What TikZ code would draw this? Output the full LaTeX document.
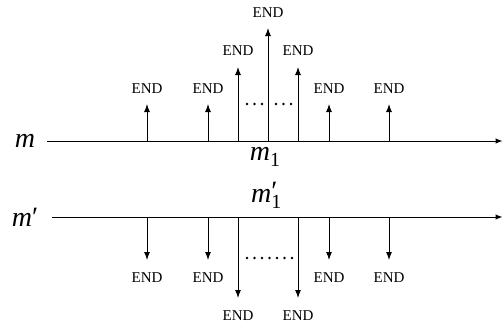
\documentclass[tikz,border=0pt]{standalone}
\usepackage{fontspec}
\setmainfont{Liberation Serif}
\usetikzlibrary{arrows.meta}
\tikzset{
  axisline/.style={line width=1pt,-{Latex[length=7pt,width=5.5pt]}},
  spike/.style={line width=1pt,-{Latex[length=8pt,width=6pt]}},
  endlbl/.style={font=\fontsize{15}{15}\selectfont,inner sep=0pt,anchor=base},
  varlbl/.style={font=\fontsize{28}{28}\selectfont,inner sep=0pt,anchor=base},
  dotmark/.style={fill=black}
}
\begin{document}
\begin{tikzpicture}[x=1pt,y=-1pt]
\useasboundingbox (0,0) rectangle (503,327);
% axes
\coordinate (a1s) at (47,141);
\coordinate (a1e) at (502.5,141);
\coordinate (a2s) at (52,217);
\coordinate (a2e) at (502.5,217);
\draw[axisline] (a1s) -- (a1e);
\draw[axisline] (a2s) -- (a2e);
% axis labels
\node[varlbl] (lm) at (25,147) {\itshape m};
\node[varlbl] (lmp) at (25,226) {{\itshape m}′};
\node[varlbl] (lm1) at (265,160) {{\itshape m}\raisebox{-0.22em}{\fontsize{20}{20}\selectfont 1}};
\node[varlbl] (lm1p) at (265,202) {{\itshape m}\rlap{\raisebox{-0.22em}{\fontsize{20}{20}\selectfont 1}}\raisebox{0.05em}{′}\hphantom{\fontsize{20}{20}\selectfont 1}\kern-0.3em};
% upward spikes: name/x/tip y/label baseline
\foreach \n/\x/\t/\b in {1/147/104/93, 2/208/104/93, 3/238/67/55, 4/268/28/17, 5/298/67/55, 6/329/104/93, 7/389/104/93}{
  \coordinate (ub\n) at (\x,141);
  \coordinate (ut\n) at (\x,\t);
  \node[endlbl] (ue\n) at (\x,\b) {END};
  \draw[spike] (ub\n) -- (ut\n);
}
% downward spikes
\foreach \n/\x/\t/\b in {1/147/260/282, 2/208/260/282, 3/238/298/320, 5/298/298/320, 6/329/260/282, 7/389/260/282}{
  \coordinate (db\n) at (\x,217);
  \coordinate (dt\n) at (\x,\t);
  \node[endlbl] (de\n) at (\x,\b) {END};
  \draw[spike] (db\n) -- (dt\n);
}
% dots
\foreach \x in {247,254.5,262,276,283.5,291}{
  \fill[dotmark] (\x,104) circle (1.4pt);
}
\foreach \x in {247,254.5,262,269.5,277,284.5,292}{
  \fill[dotmark] (\x,258) circle (1.4pt);
}
\end{tikzpicture}
\end{document}
